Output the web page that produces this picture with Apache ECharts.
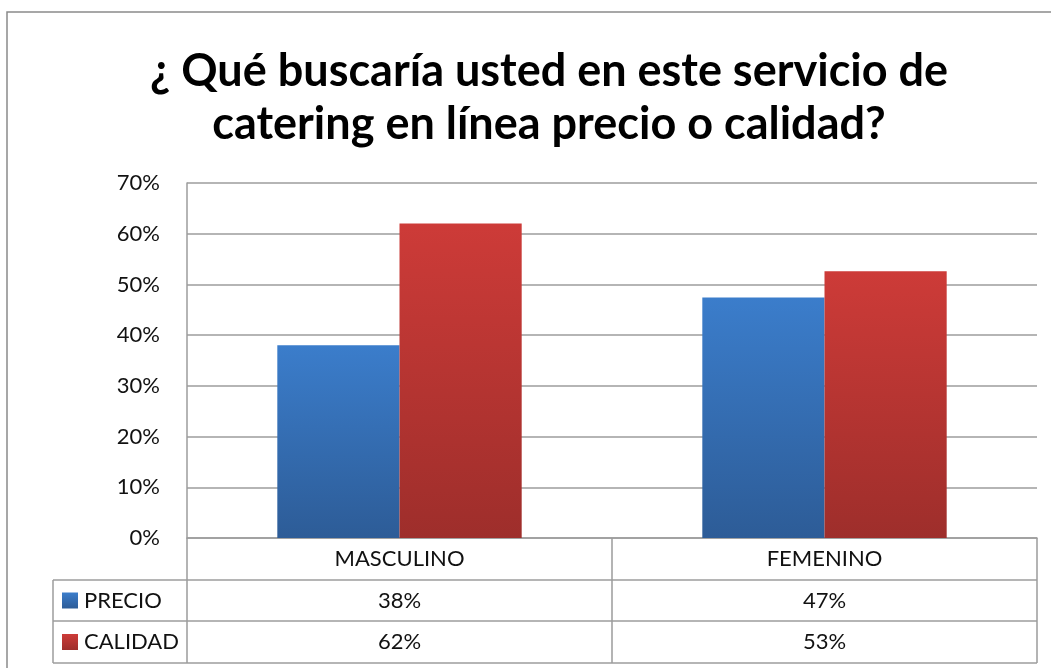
<!DOCTYPE html>
<html>
<head>
<meta charset="utf-8">
<script src="https://cdn.jsdelivr.net/npm/echarts@6/dist/echarts.min.js"></script>
<style>
  html, body { margin: 0; padding: 0; background: #fff; }
  #chart { width: 1051px; height: 668px; }
</style>
</head>
<body>
<div id="chart"></div>
<script>
// datos
var categories = ['MASCULINO', 'FEMENINO'];
var precio = [38, 47.4];
var calidad = [62, 52.6];
var seriesNames = ['PRECIO', 'CALIDAD'];
var titleLines = ['¿ Qué buscaría usted en este servicio de', 'catering en línea precio o calidad?'];

var FONT = 'Lato, "Open Sans", sans-serif';
var GRID_COLOR = '#9c9c9c';
var TXT = 22;

function grad(top, bottom) {
  return new echarts.graphic.LinearGradient(0, 0, 0, 1, [
    { offset: 0, color: top },
    { offset: 1, color: bottom }
  ]);
}
var blue = grad('#3b7dcb', '#2d5c97');
var red = grad('#cd3b38', '#9e2e2b');

var chart = echarts.init(document.getElementById('chart'));
var option = {
  animation: false,
  title: {
    text: titleLines.join('\n'),
    left: 544,
    textAlign: 'center',
    top: 40,
    textStyle: {
      fontFamily: FONT,
      fontSize: 45,
      fontWeight: 'bold',
      color: '#000',
      lineHeight: 53
    }
  },
  grid: { left: 187, right: 14, top: 183, bottom: 130 },
  xAxis: {
    type: 'category',
    data: categories,
    axisLine: { lineStyle: { color: GRID_COLOR, width: 1.5 } },
    axisTick: { show: true, length: 125, lineStyle: { color: GRID_COLOR, width: 1.5 } },
    axisLabel: { margin: 10, fontFamily: FONT, fontSize: TXT, color: '#111' }
  },
  yAxis: {
    type: 'value',
    min: 0,
    max: 70,
    interval: 10,
    axisLine: { show: true, lineStyle: { color: GRID_COLOR, width: 1.5 } },
    axisTick: { show: false },
    splitLine: { lineStyle: { color: GRID_COLOR, width: 1.5 } },
    axisLabel: {
      margin: 27,
      fontFamily: FONT,
      fontSize: TXT,
      color: '#111',
      formatter: '{value}%'
    }
  },
  series: [
    {
      name: seriesNames[0],
      type: 'bar',
      data: precio,
      barGap: '0%',
      barCategoryGap: '42.5%',
      itemStyle: { color: blue, shadowBlur: 4, shadowColor: 'rgba(0,0,0,0.25)', shadowOffsetX: 1, shadowOffsetY: 1 }
    },
    {
      name: seriesNames[1],
      type: 'bar',
      data: calidad,
      barGap: '0%',
      barCategoryGap: '42.5%',
      itemStyle: { color: red, shadowBlur: 4, shadowColor: 'rgba(0,0,0,0.25)', shadowOffsetX: 1, shadowOffsetY: 1 }
    }
  ]
};
chart.setOption(option);

// tabla de datos debajo del eje
var tableLeft = 53, tableRight = 1037;
var rowLines = [580, 621, 663];
var line = function (x1, y1, x2, y2) {
  return { type: 'line', shape: { x1: x1, y1: y1, x2: x2, y2: y2 },
    style: { stroke: GRID_COLOR, lineWidth: 1.5 }, silent: true };
};
var elements = [
  // marco exterior del gráfico
  { type: 'rect', shape: { x: 7, y: 12, width: 1200, height: 800 },
    style: { fill: null, stroke: '#8a8a8a', lineWidth: 1.5 }, silent: true },
  line(tableLeft, rowLines[0], tableLeft, rowLines[2])
];
rowLines.forEach(function (y) { elements.push(line(tableLeft, y, tableRight, y)); });

var rows = [precio, calidad];
var keyColors = [blue, red];
rows.forEach(function (vals, r) {
  var cy = (rowLines[r] + rowLines[r + 1]) / 2;
  elements.push({ type: 'rect', shape: { x: 62, y: cy - 8, width: 16, height: 16 },
    style: { fill: keyColors[r] }, silent: true });
  elements.push({ type: 'text', x: 84, y: cy,
    style: { text: seriesNames[r], fontFamily: FONT, fontSize: TXT, fill: '#111',
      textVerticalAlign: 'middle', verticalAlign: 'middle' }, silent: true });
  vals.forEach(function (v, i) {
    var cx = chart.convertToPixel({ xAxisIndex: 0 }, categories[i]);
    elements.push({ type: 'text', x: cx, y: cy,
      style: { text: Math.round(v) + '%', fontFamily: FONT, fontSize: TXT, fill: '#111',
        textAlign: 'center', align: 'center', textVerticalAlign: 'middle', verticalAlign: 'middle' },
      silent: true });
  });
});
chart.setOption({ graphic: elements });
</script>
</body>
</html>
